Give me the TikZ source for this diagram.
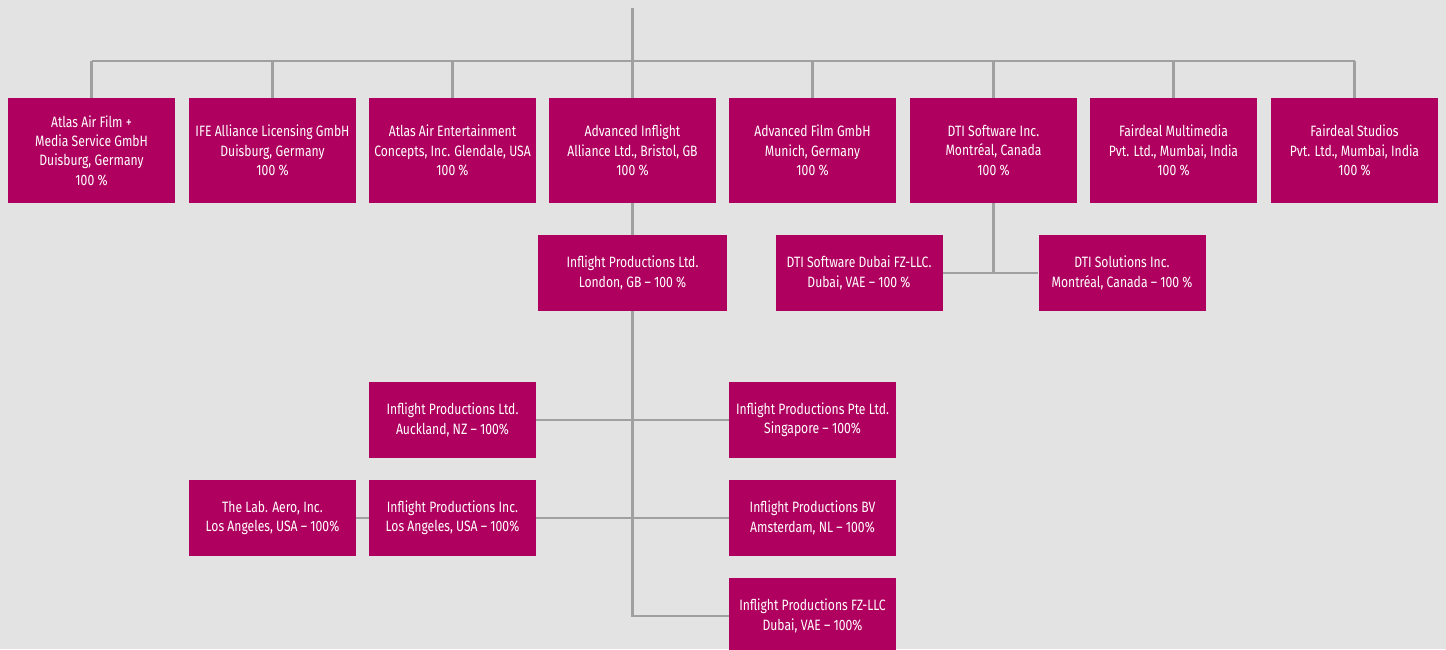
\documentclass[tikz,border=0pt]{standalone}
\usepackage{fontspec}
\setmainfont{Fira Sans}[FakeStretch=0.81]
\usepackage{tikz}
\definecolor{firmcol}{HTML}{B0005F}
\definecolor{backcol}{HTML}{E3E3E3}
\definecolor{linkcol}{HTML}{A0A0A0}
\tikzset{
	firm/.style={fill=firmcol, text=white, inner sep=0pt, align=center, minimum width=167pt, minimum height=105pt, font=\fontsize{15}{19.3}\selectfont},
	subfirm/.style={firm, minimum height=76pt},
	link/.style={draw=linkcol, line width=2.5pt}
}

\begin{document}
\begin{tikzpicture}[x=1pt, y=-1pt]
		%%%%% START %%%%%
		
		\fill[backcol] (0, 0) rectangle (1446, 649);
		\useasboundingbox (0, 0) rectangle (1446, 649);
		
		\node[firm] (a1) at (91.5, 150.5) {Atlas Air Film +\\Media Service GmbH\\Duisburg, Germany\\100 \%};
		\node[firm] (a2) at (272.5, 150.5) {IFE Alliance Licensing GmbH\\Duisburg, Germany\\100 \%};
		\node[firm] (a3) at (452.5, 150.5) {Atlas Air Entertainment\\Concepts, Inc. Glendale, USA\\100 \%};
		\node[firm] (a4) at (632.5, 150.5) {Advanced Inflight\\Alliance Ltd., Bristol, GB\\100 \%};
		\node[firm] (a5) at (812.5, 150.5) {Advanced Film GmbH\\Munich, Germany\\100 \%};
		\node[firm] (a6) at (993.5, 150.5) {DTI Software Inc.\\Montréal, Canada\\100 \%};
		\node[firm] (a7) at (1173.5, 150.5) {Fairdeal Multimedia\\Pvt. Ltd., Mumbai, India\\100 \%};
		\node[firm] (a8) at (1354.5, 150.5) {Fairdeal Studios\\Pvt. Ltd., Mumbai, India\\100 \%};
		
		\node[subfirm, minimum width=189pt] (ldn) at (632.5, 273) {Inflight Productions Ltd.\\London, GB – 100 \%};
		\node[subfirm] (dxb) at (859, 273) {DTI Software Dubai FZ-LLC.\\Dubai, VAE – 100 \%};
		\node[subfirm] (sol) at (1122, 273) {DTI Solutions Inc.\\Montréal, Canada – 100 \%};
		
		\node[subfirm] (akl) at (452.5, 420) {Inflight Productions Ltd.\\Auckland, NZ – 100\%};
		\node[subfirm] (sgp) at (812.5, 420) {Inflight Productions Pte Ltd.\\Singapore – 100\%};
		\node[subfirm] (lab) at (272.5, 518) {The Lab. Aero, Inc.\\Los Angeles, USA – 100\%};
		\node[subfirm] (lax) at (452.5, 518) {Inflight Productions Inc.\\Los Angeles, USA – 100\%};
		\node[subfirm] (ams) at (812.5, 518) {Inflight Productions BV\\Amsterdam, NL – 100\%};
		\node[subfirm] (fzl) at (812.5, 616) {Inflight Productions FZ-LLC\\Dubai, VAE – 100\%};
		
		% holding bus
		\coordinate (top) at (632.5, 8);
		\coordinate (bus) at (632.5, 61);
		\draw[link] (top) -- (bus);
		\draw[link] (a1.north |- bus) -- (a8.north |- bus);
		\foreach \n in {a1,a2,a3,a4,a5,a6,a7,a8}
			\draw[link] (\n.north |- bus) -- (\n.north);
		
		\draw[link] (a4.south) -- (ldn.north);
		\draw[link] (a6.south) -- (a6.south |- dxb.east);
		\draw[link] (dxb.east) -- (sol.west);
		
		\draw[link] (ldn.south) -- (ldn.south |- fzl.west) -- (fzl.west);
		\draw[link] (akl.east) -- (sgp.west);
		\draw[link] (lax.east) -- (ams.west);
		\draw[link] (lab.east) -- (lax.west);
		
		%%%%% END %%%%%
	\end{tikzpicture}
\end{document}
